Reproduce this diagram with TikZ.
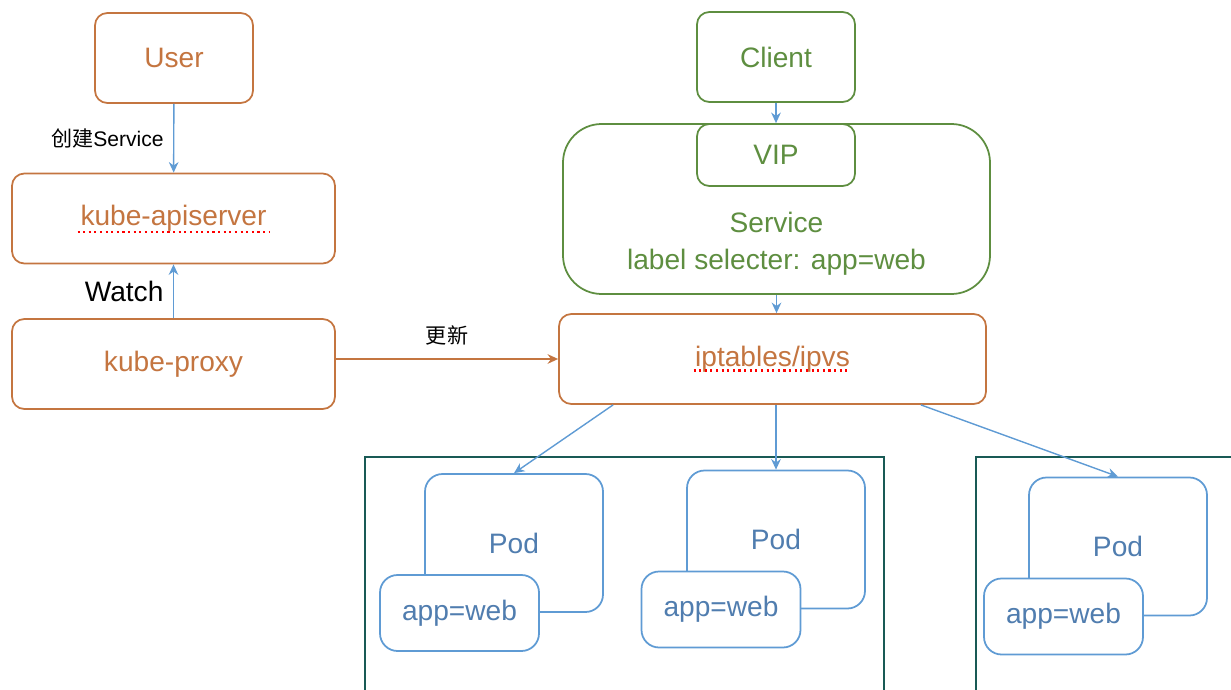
\documentclass[tikz,border=0pt]{standalone}
\usepackage{fontspec}
\setmainfont{Liberation Sans}
\newfontfamily\cjk{Noto Sans CJK SC}
\usetikzlibrary{arrows.meta}
\definecolor{kbrown}{RGB}{196,117,64}
\definecolor{kgreen}{RGB}{94,142,64}
\definecolor{kblue}{RGB}{95,155,212}
\definecolor{kpodtext}{RGB}{80,125,175}
\definecolor{khost}{RGB}{25,90,85}

\begin{document}
\begin{tikzpicture}[
        font=\fontsize{16}{19}\selectfont,
        >={Stealth[length=6pt,width=5.5pt]},
        brownbox/.style={draw=kbrown,text=kbrown,line width=1pt,rounded corners=7pt,minimum width=#1,minimum height=1.8cm},
        greenbox/.style={draw=kgreen,text=kgreen,line width=1pt,rounded corners=7pt,minimum width=3.16cm,minimum height=#1},
        podbox/.style={draw=kblue,text=kpodtext,line width=1pt,rounded corners=10pt,minimum width=3.56cm,minimum height=2.76cm},
        appbox/.style={draw=kblue,text=kpodtext,fill=white,line width=1pt,rounded corners=10pt,minimum width=3.18cm,minimum height=1.52cm},
        host/.style={draw=khost,line width=1pt},
        link/.style={->,draw=kblue,line width=0.8pt},
        spell/.style={draw=red,dotted,line width=1.2pt},
        small/.style={font=\fontsize{12}{14}\selectfont,text=black}
    ]
        \useasboundingbox (0,0) rectangle (24.62,-13.8);

        % control plane
        \node[brownbox=3.16cm] (user) at (3.48,-1.16) {User};
        \node[brownbox=6.46cm] (api) at (3.47,-4.37) {kube-apiserver};
        \node[brownbox=6.46cm] (proxy) at (3.47,-7.28) {kube-proxy};

        % service side
        \node[greenbox=1.8cm] (client) at (15.52,-1.14) {Client};
        \node[draw=kgreen,line width=1pt,rounded corners=22pt,minimum width=8.54cm,minimum height=3.4cm] (svc) at (15.53,-4.18) {};
        \node[greenbox=1.24cm] (vip) at (15.52,-3.1) {VIP};
        \node[text=kgreen,align=center] (svctext) at (15.53,-4.87) {Service\\[2pt]label selecter: app=web};
        \node[brownbox=8.54cm] (ipt) at (15.45,-7.18) {iptables/ipvs};

        \draw[spell] ([xshift=-1.92cm,yshift=-0.27cm]api.center) -- ([xshift=1.92cm,yshift=-0.27cm]api.center);
        \draw[spell] ([xshift=-1.58cm,yshift=-0.23cm]ipt.center) -- ([xshift=1.56cm,yshift=-0.23cm]ipt.center);

        % hosts
        \draw[host] (7.3,-14) -- (7.3,-9.14) -- (17.68,-9.14) -- (17.68,-14);
        \draw[host] (19.52,-14) -- (19.52,-9.14) -- (24.8,-9.14);

        % pods
        \node[podbox] (pod1) at (10.28,-10.86) {Pod};
        \node[appbox] (app1) at (9.19,-12.26) {app=web};
        \node[podbox] (pod2) at (15.52,-10.79) {Pod};
        \node[appbox] (app2) at (14.42,-12.19) {app=web};
        \node[podbox] (pod3) at (22.36,-10.93) {Pod};
        \node[appbox] (app3) at (21.27,-12.33) {app=web};

        % connectors
        \draw[link] (user) -- (api) node[midway,left=2pt,small] {{\cjk 创建}Service};
        \draw[link] (proxy) -- (api) node[midway,left=2pt,text=black] {Watch};
        \draw[->,draw=kbrown,line width=0.8pt] (proxy.east |- ipt) -- (ipt.west) node[midway,above=4pt,small] {\cjk 更新};
        \draw[link] (client) -- (client |- svc.north);
        \draw[link] (svc.south) -- (svc.south |- ipt.north);
        \draw[link] ([xshift=1.1cm]ipt.south west) -- (pod1.north);
        \draw[link] (ipt.south -| pod2) -- (pod2.north);
        \draw[link] ([xshift=-1.32cm]ipt.south east) -- (pod3.north);
    \end{tikzpicture}
\end{document}
